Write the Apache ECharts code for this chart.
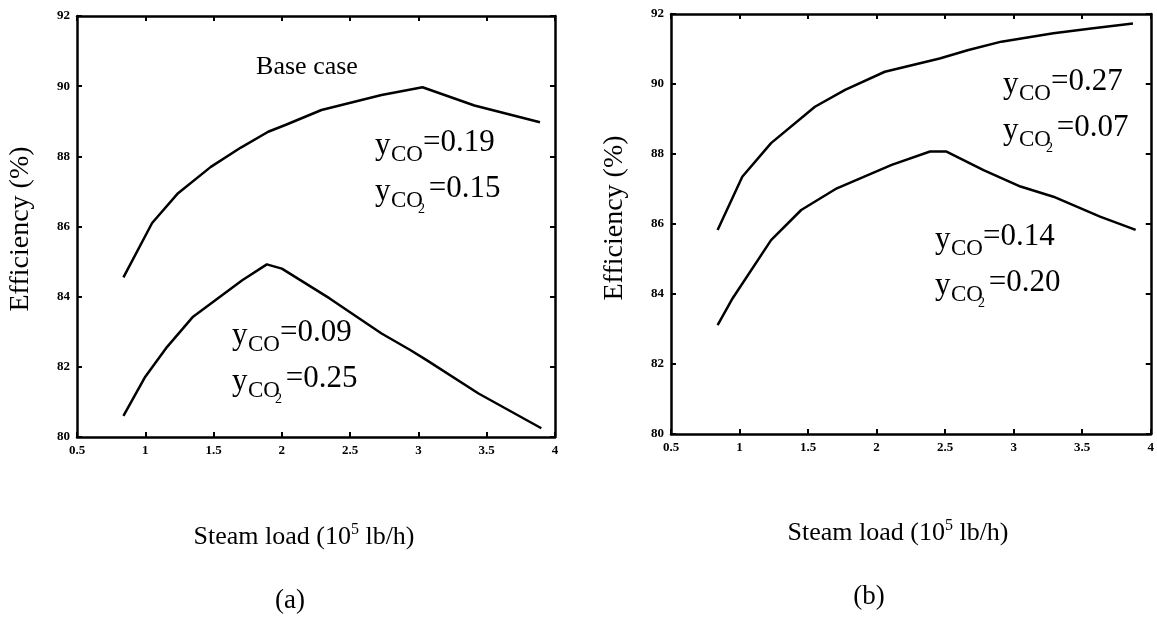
<!DOCTYPE html>
<html><head><meta charset="utf-8">
<script src="https://cdn.jsdelivr.net/npm/echarts@6/dist/echarts.min.js"></script>
<style>html,body{margin:0;padding:0;background:#fff}#c{width:1157px;height:620px}</style>
</head><body><div id="c"></div>
<script>
// ---- data ----
const loadA1 = [0.84, 1.05, 1.24, 1.48, 1.70, 1.90, 2.03, 2.29, 2.73, 3.03, 3.41, 3.89];
const effA1  = [84.55, 86.10, 86.95, 87.70, 88.25, 88.70, 88.90, 89.32, 89.75, 89.97, 89.45, 88.97];
const loadA2 = [0.84, 1.00, 1.16, 1.35, 1.53, 1.71, 1.89, 2.00, 2.35, 2.73, 2.94, 3.06, 3.44, 3.90];
const effA2  = [80.60, 81.72, 82.57, 83.43, 83.95, 84.47, 84.92, 84.80, 83.95, 82.95, 82.48, 82.19, 81.24, 80.25];
const loadB1 = [0.84, 1.02, 1.23, 1.55, 1.77, 2.06, 2.46, 2.67, 2.91, 3.29, 3.58, 3.87];
const effB1  = [85.83, 87.35, 88.31, 89.35, 89.83, 90.35, 90.73, 90.97, 91.21, 91.45, 91.59, 91.73];
const loadB2 = [0.84, 0.95, 1.23, 1.45, 1.71, 2.11, 2.39, 2.51, 2.78, 3.05, 3.29, 3.63, 3.89];
const effB2  = [83.11, 83.88, 85.54, 86.40, 87.02, 87.69, 88.07, 88.07, 87.54, 87.07, 86.78, 86.21, 85.83];
const coA = ['0.19', '0.09'];  const co2A = ['0.15', '0.25'];
const coB = ['0.27', '0.14'];  const co2B = ['0.07', '0.20'];
const xRange = [0.5, 4, 0.5];
const yRange = [80, 92, 2];
const panelLabels = ['(a)', '(b)'];
const yTitle = 'Efficiency (%)';
const baseCase = 'Base case';

const FF = 'Liberation Serif';
function pairs(xs, ys) { return xs.map((x, i) => [x, ys[i]]); }

const lineStyleAxis = { color: '#000', width: 2.5 };
function xAx(gi, pos, labels) {
  return {
    type: 'value', gridIndex: gi, position: pos, min: xRange[0], max: xRange[1], interval: xRange[2],
    axisLine: { onZero: false, lineStyle: lineStyleAxis },
    axisTick: { inside: true, length: 5, lineStyle: { color: '#000', width: 2 } },
    axisLabel: { show: labels, color: '#000', fontFamily: FF, fontWeight: 'bold', fontSize: 13, margin: 7,
                 showMinLabel: true, showMaxLabel: true, formatter: v => String(v) },
    splitLine: { show: false }
  };
}
function yAx(gi, pos, labels) {
  return {
    type: 'value', gridIndex: gi, position: pos, min: yRange[0], max: yRange[1], interval: yRange[2],
    axisLine: { onZero: false, lineStyle: lineStyleAxis },
    axisTick: { inside: true, length: 5, lineStyle: { color: '#000', width: 2 } },
    axisLabel: { show: labels, color: '#000', fontFamily: FF, fontWeight: 'bold', fontSize: 13, margin: 7,
                 showMinLabel: true, showMaxLabel: true },
    splitLine: { show: false }
  };
}
function ser(gi, xs, ys) {
  return { type: 'line', xAxisIndex: gi * 2, yAxisIndex: gi * 2, data: pairs(xs, ys),
           showSymbol: false, symbol: 'none', lineStyle: { color: '#000', width: 2.5 }, animation: false, silent: true };
}

function T(t, x, base, fs) {
  return { type: 'text', x: x, y: base - 0.32 * fs, silent: true,
    style: { text: t, fill: '#000', font: fs + 'px "' + FF + '"', verticalAlign: 'middle', align: 'left' } };
}
function chem(x, b, v1, v2) {
  const b2 = b + 46;
  return [
    T('y', x, b + 3, 31), T('CO', x + 16, b + 9, 23), T('=' + v1, x + 48, b, 31),
    T('y', x, b2 + 3, 31), T('CO', x + 16, b2 + 9, 23), T('2', x + 43, b2 + 15, 14), T(' =' + v2, x + 46, b2, 31)
  ];
}
function centered(t, x, y, fs, rot) {
  return { type: 'text', x: x, y: y, rotation: rot || 0, silent: true,
    style: { text: t, fill: '#000', font: fs + 'px "' + FF + '"', align: 'center', verticalAlign: 'middle' } };
}
function xTitle(x, y) {
  return { type: 'text', x: x, y: y, silent: true,
    style: { text: '{t|Steam load (10}{s|5}{t| lb/h)}', align: 'center', verticalAlign: 'middle', fill: '#000',
      rich: { t: { fontSize: 26, fontFamily: FF, color: '#000', lineHeight: 30 },
              s: { fontSize: 16, fontFamily: FF, color: '#000', verticalAlign: 'top', lineHeight: 30, padding: [0, 0, 10, 0] } } } };
}

const graphic = [].concat(
  chem(375, 153, coA[0], co2A[0]),
  chem(232, 343, coA[1], co2A[1]),
  chem(1003, 92, coB[0], co2B[0]),
  chem(935, 247, coB[1], co2B[1]),
  [centered(baseCase, 307, 67, 26),
   centered(yTitle, 21, 229, 28, Math.PI / 2),
   centered(yTitle, 615, 218, 28, Math.PI / 2),
   xTitle(304, 537), xTitle(898, 533),
   centered(panelLabels[0], 290, 601, 27),
   centered(panelLabels[1], 869, 597, 27)]
);

const chart = echarts.init(document.getElementById('c'), null, { renderer: 'canvas' });
chart.setOption({
  animation: false,
  backgroundColor: '#fff',
  grid: [{ left: 77, right: 602, top: 16, bottom: 183 }, { left: 671, right: 4, top: 14, bottom: 186 }],
  xAxis: [xAx(0, 'bottom', true), xAx(0, 'top', false), xAx(1, 'bottom', true), xAx(1, 'top', false)],
  yAxis: [yAx(0, 'left', true), yAx(0, 'right', false), yAx(1, 'left', true), yAx(1, 'right', false)],
  series: [ser(0, loadA1, effA1), ser(0, loadA2, effA2), ser(1, loadB1, effB1), ser(1, loadB2, effB2)],
  graphic: graphic
});
</script></body></html>
